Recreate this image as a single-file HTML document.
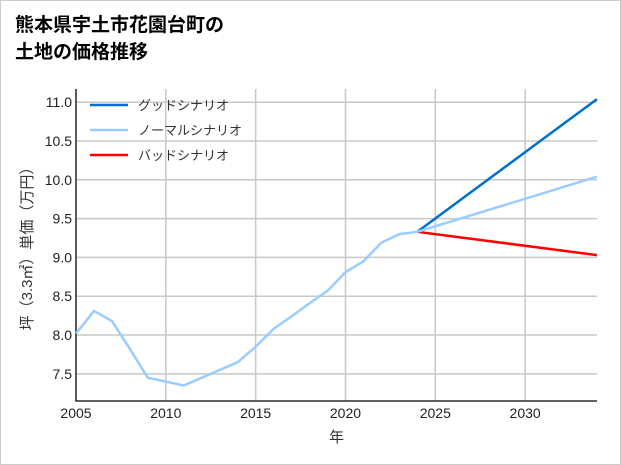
<!DOCTYPE html>
<html><head><meta charset="utf-8">
<style>
body{margin:0;background:#fff;}
#wrap{position:relative;width:619px;height:463px;border:1px solid #ccc;background:#fff;overflow:hidden;}
svg text{font-family:"Liberation Sans","Noto Sans CJK JP",sans-serif;}
</style></head><body>
<div id="wrap">
<svg id="chart" width="621" height="465" xmlns="http://www.w3.org/2000/svg">
<text x="14" y="30" font-size="19" font-weight="bold" fill="#000">熊本県宇土市花園台町の</text>
<text x="14" y="57" font-size="19" font-weight="bold" fill="#000">土地の価格推移</text>
</svg>
</div>
<script>
const years=[2005,2006,2007,2008,2009,2010,2011,2012,2013,2014,2015,2016,2017,2018,2019,2020,2021,2022,2023,2024];
const normalHist=[8.02,8.31,8.18,7.82,7.45,7.40,7.35,7.45,7.55,7.65,7.85,8.08,8.24,8.41,8.57,8.81,8.95,9.19,9.30,9.33];
const projYears=[2024,2034];
const goodProj=[9.33,11.04];
const normalProj=[9.33,10.04];
const badProj=[9.33,9.03];
const xTicks=[2005,2010,2015,2020,2025,2030];
const yTicks=[7.5,8.0,8.5,9.0,9.5,10.0,10.5,11.0];
const legendLabels=["グッドシナリオ","ノーマルシナリオ","バッドシナリオ"];
const colors=["#0070cc","#99ccff","#ff0000"];

const svg=document.getElementById('chart');
const NS="http://www.w3.org/2000/svg";
const L=75,R=596,T=88,B=400;
const x0=2005,x1=2034,y0=7.15,y1=11.17;
const xs=v=>L+(v-x0)/(x1-x0)*(R-L);
const ys=v=>B-(v-y0)/(y1-y0)*(B-T);
function mk(tag,attrs){const e=document.createElementNS(NS,tag);for(const k in attrs)e.setAttribute(k,attrs[k]);svg.appendChild(e);return e;}
xTicks.forEach(t=>{
 const g=mk('line',{x1:xs(t),x2:xs(t),y1:T,y2:B,stroke:'#c8c8c8','stroke-width':1.5});
 
 
 const tx=mk('text',{x:xs(t),y:B+17,'font-size':14,'text-anchor':'middle',fill:'#222'});
 tx.textContent=t;
 
 
});
yTicks.forEach(t=>{
 const g=mk('line',{x1:L,x2:R,y1:ys(t),y2:ys(t),stroke:'#c8c8c8','stroke-width':1.5});
 
 
 const tx=mk('text',{x:L-4,y:ys(t)+5,'font-size':14,'text-anchor':'end',fill:'#222'});
 tx.textContent=t.toFixed(1);
 
 
});
const ax=mk('path',{d:`M${L},${T} V${B} H${R}`,fill:'none',stroke:'#000','stroke-width':1.2});


function line(xv,yv,c,name){
 const p=mk('polyline',{points:xv.map((x,i)=>xs(x)+','+ys(yv[i])).join(' '),fill:'none',stroke:c,'stroke-width':2.5});
 
 
}
line(projYears,goodProj,colors[0],'good-scenario-line');
line(projYears,badProj,colors[2],'bad-scenario-line');
line(projYears,normalProj,colors[1],'normal-scenario-line');
line(years,normalHist,colors[1],'historical-price-line');
legendLabels.forEach((lab,i)=>{
 const y=104+i*25;
 const l=mk('line',{x1:89,x2:127,y1:y,y2:y,stroke:colors[i],'stroke-width':2.5});
 
 
 const t=mk('text',{x:137,y:y+5,'font-size':13,fill:'#333'});
 t.textContent=lab;
 
 
});
const xt=mk('text',{x:(L+R)/2,y:441,'font-size':15,'text-anchor':'middle',fill:'#333'});
xt.textContent='年';


const yt=mk('text',{x:0,y:0,'font-size':15,'text-anchor':'middle',fill:'#333',transform:`translate(31,${(T+B)/2}) rotate(-90)`});
yt.textContent='坪（3.3㎡）単価（万円）';


</script>
</body></html>
